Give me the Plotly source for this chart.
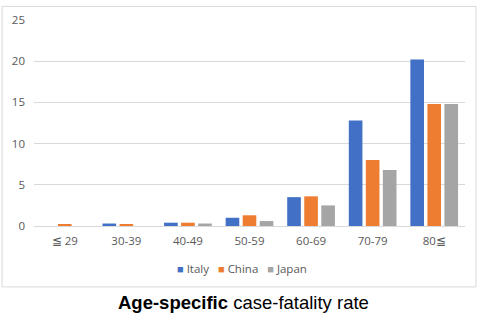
import plotly.graph_objects as go

categories = ["≦ 29", "30-39", "40-49", "50-59", "60-69", "70-79", "80≦"]
italy = [0, 0.3, 0.4, 1.0, 3.5, 12.8, 20.2]
china = [0.2, 0.2, 0.4, 1.3, 3.6, 8.0, 14.8]
japan = [0, 0, 0.3, 0.6, 2.5, 6.8, 14.8]
series_names = ["Italy", "China", "Japan"]
colors = ["#4170c6", "#ee7d31", "#a5a5a5"]
y_ticks = [0, 5, 10, 15, 20, 25]

fig = go.Figure()
for name, vals, col in zip(series_names, [italy, china, japan], colors):
    fig.add_trace(go.Bar(x=categories, y=vals, name=name,
                         marker=dict(color=col, line=dict(width=0))))

legend_text = "&nbsp;&nbsp;&nbsp;".join(
    f"<span style='color:{c};font-size:11px'>■</span>&nbsp;{n}" for n, c in zip(series_names, colors))

fig.update_layout(
    width=480, height=325,
    margin=dict(l=33, r=15, t=15, b=99),
    paper_bgcolor="white", plot_bgcolor="white",
    barmode="group", bargap=0.17, bargroupgap=0.2,
    font=dict(family="Open Sans", size=11, color="#595959"),
    showlegend=False,
    xaxis=dict(showgrid=False, showline=False, ticks="", ticklabelstandoff=6,
               tickfont=dict(size=11.5, color="#595959")),
    yaxis=dict(range=[0, 25], tickvals=y_ticks, showgrid=True, gridcolor="#d9d9d9",
               gridwidth=1, zeroline=True, zerolinecolor="#d9d9d9", zerolinewidth=1,
               ticks="", ticklabelstandoff=8, tickfont=dict(size=11.5, color="#595959")),
    shapes=[dict(type="rect", xref="paper", yref="paper",
                 x0=-0.074, x1=1.0255, y0=-0.2957, y1=1.066,
                 line=dict(color="#d9d9d9", width=1), layer="below")],
    annotations=[
        dict(text=legend_text, xref="paper", yref="paper", x=0.483, y=-0.205,
             xanchor="center", yanchor="middle", showarrow=False,
             font=dict(size=11.5, color="#595959")),
        dict(text="<b>Age-specific</b> case-fatality rate", xref="paper", yref="paper",
             x=0.485, y=-0.37, xanchor="center", yanchor="middle", showarrow=False,
             font=dict(family="Liberation Sans", size=18.5, color="black"))],
)

fig.write_html("out.html")
